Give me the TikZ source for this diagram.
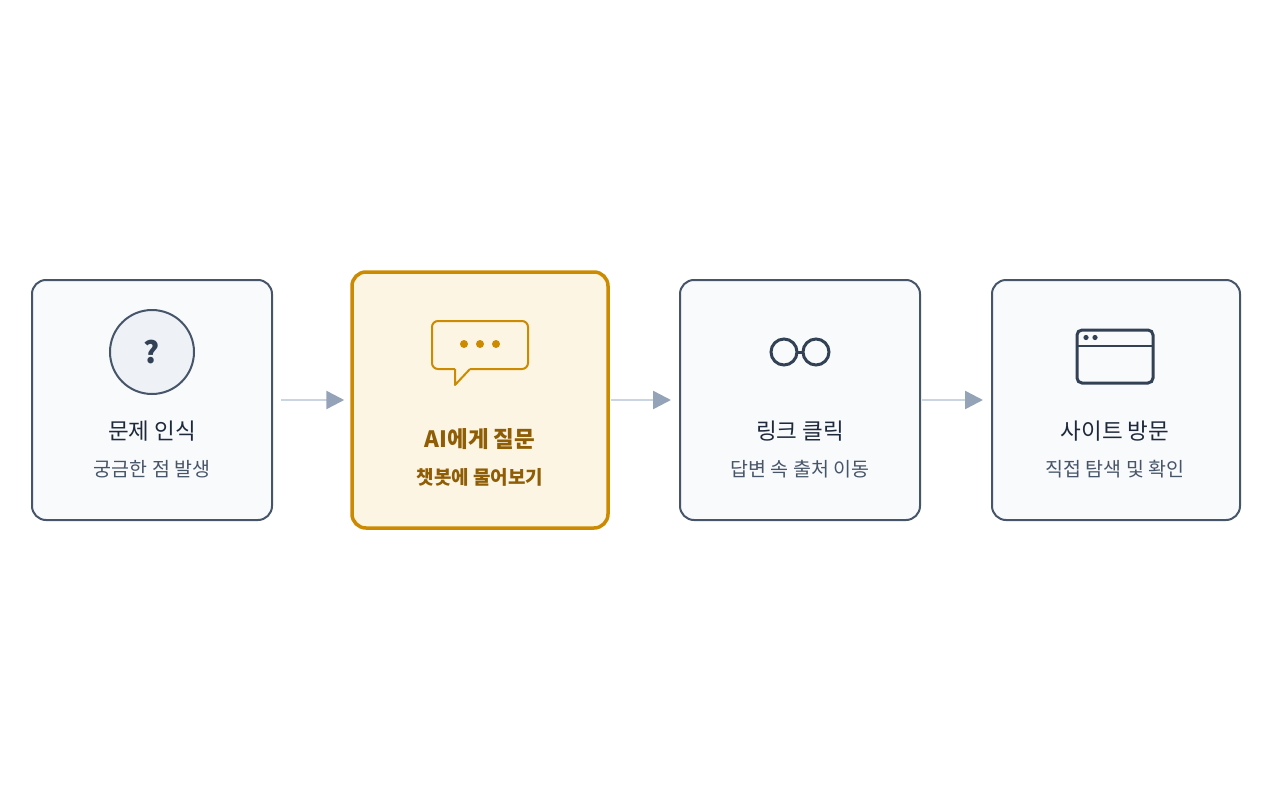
\documentclass[tikz,border=0pt]{standalone}
\usepackage{fontspec}
\setmainfont{Noto Sans CJK KR}
\usetikzlibrary{arrows.meta}
\definecolor{bstroke}{HTML}{475569}
\definecolor{bfill}{HTML}{F8FAFC}
\definecolor{cfill}{HTML}{EEF2F7}
\definecolor{hstroke}{HTML}{CC8A00}
\definecolor{hfill}{HTML}{FDF5E3}
\definecolor{htext}{HTML}{8F5D05}
\definecolor{ttext}{HTML}{1E293B}
\definecolor{stext}{HTML}{475569}
\definecolor{icon}{HTML}{334155}
\definecolor{aline}{HTML}{CBD5E1}
\definecolor{ahead}{HTML}{94A3B8}
\begin{document}
\begin{tikzpicture}[x=1pt,y=-1pt,
  box/.style={draw=bstroke,fill=bfill,line width=2pt,rounded corners=14pt,minimum width=240pt,minimum height=240pt,inner sep=0pt},
  hbox/.style={draw=hstroke,fill=hfill,line width=3.5pt,rounded corners=14pt,minimum width=256pt,minimum height=256pt,inner sep=0pt},
  title/.style={text=ttext,font=\fontsize{22.5}{26}\selectfont},
  sub/.style={text=stext,font=\fontsize{19.5}{23}\selectfont},
  arr/.style={draw=aline,line width=2.5pt,-{Triangle[length=18pt,width=18pt,fill=ahead,color=ahead]}}]
\useasboundingbox (0,0) rectangle (1280,800);
\node[box] (b1) at (152,400) {};
\node[hbox] (b2) at (480,400) {};
\node[box] (b3) at (800,400) {};
\node[box,minimum width=248pt] (b4) at (1116,400) {};
\draw[arr] ([xshift=8pt]b1.east) -- ([xshift=-6pt]b2.west);
\draw[arr] ([xshift=1pt]b2.east) -- ([xshift=-8pt]b3.west);
\draw[arr] ([xshift=1pt]b3.east) -- ([xshift=-8pt]b4.west);
% icon 1
\node[circle,draw=bstroke,fill=cfill,line width=2pt,minimum size=84pt,inner sep=0pt,text=icon,font=\fontsize{30}{30}\selectfont\bfseries] (i1) at (152,352) {?};
\node[title] (t1) at (152,431) {문제 인식};
\node[sub] (s1) at (152,469) {궁금한 점 발생};
% icon 2
\draw[hstroke,line width=2pt,rounded corners=6pt] (455,369) -- (432,369) -- (432,321) -- (528,321) -- (528,369) -- (470,369);
\draw[hstroke,line width=2pt,line join=round] (470,369) -- (455,385) -- (455,369);
\foreach \x in {464,480,496} \fill[hstroke] (\x,344) circle (4pt);
\node[title,text=htext,font=\fontsize{22.5}{26}\selectfont\bfseries] (t2) at (480,439) {AI에게 질문};
\node[sub,text=htext,font=\fontsize{19}{23}\selectfont\bfseries] (s2) at (480,477) {챗봇에 물어보기};
% icon 3
\draw[icon,line width=3pt] (784,352) circle (13pt) (816,352) circle (13pt);
\draw[icon,line width=3pt] (797,352) -- (803,352);
\node[title] (t3) at (800,431) {링크 클릭};
\node[sub] (s3) at (800,469) {답변 속 출처 이동};
% icon 4
\draw[icon,line width=3pt,rounded corners=5pt] (1077,330) rectangle (1153,383);
\draw[icon,line width=2pt] (1077,345.5) -- (1153,345.5);
\fill[icon] (1086,337.5) circle (2.6pt) (1095,337.5) circle (2.6pt);
\node[title] (t4) at (1115,431) {사이트 방문};
\node[sub] (s4) at (1115,469) {직접 탐색 및 확인};
\end{tikzpicture}
\end{document}
